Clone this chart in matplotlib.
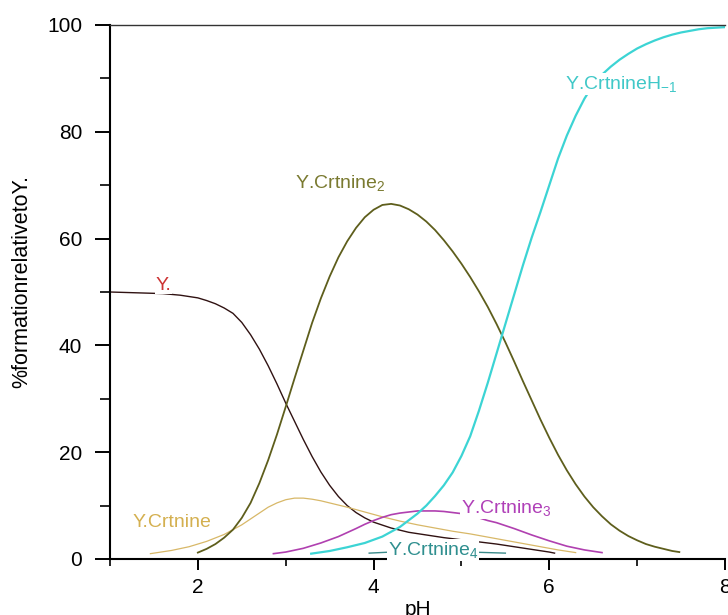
import numpy as np
import matplotlib
matplotlib.use("Agg")
import matplotlib.pyplot as plt
from matplotlib.ticker import MultipleLocator

plt.rcParams['font.family'] = ['Liberation Sans', 'DejaVu Sans']
plt.rcParams['mathtext.fontset'] = 'custom'
plt.rcParams['mathtext.rm'] = 'Liberation Sans'
plt.rcParams['mathtext.it'] = 'Liberation Sans'

# species distribution (pH, % formation)
ph_free = [1.0, 1.2, 1.4, 1.6, 1.8, 2.0, 2.1, 2.2, 2.3, 2.4, 2.5, 2.6, 2.7, 2.8, 2.9,
           3.0, 3.1, 3.2, 3.3, 3.4, 3.5, 3.6, 3.7, 3.8, 3.9, 4.0, 4.2, 4.4, 4.6, 4.8,
           5.0, 5.2, 5.4, 5.6, 5.8, 6.0, 6.06]
y_free = [50, 49.9, 49.8, 49.7, 49.4, 48.9, 48.4, 47.8, 47, 46, 44.3, 42, 39.3, 36.2, 32.8,
          29.2, 25.8, 22.4, 19.2, 16.3, 13.8, 11.7, 10.0, 8.7, 7.7, 6.9, 5.8, 5.0, 4.5, 4.0,
          3.6, 3.2, 2.8, 2.3, 1.8, 1.3, 1.1]

ph_l1 = [1.46, 1.7, 1.9, 2.1, 2.3, 2.5, 2.6, 2.7, 2.8, 2.9, 3.0, 3.1, 3.2, 3.3, 3.4,
         3.5, 3.7, 3.9, 4.1, 4.3, 4.5, 4.7, 4.9, 5.1, 5.3, 5.5, 5.7, 5.9, 6.1, 6.3]
y_l1 = [1, 1.6, 2.3, 3.3, 4.6, 6.4, 7.5, 8.6, 9.7, 10.5, 11.1, 11.4, 11.4, 11.2, 10.9,
        10.5, 9.7, 8.8, 7.9, 7.1, 6.4, 5.8, 5.2, 4.7, 4.1, 3.5, 2.9, 2.3, 1.7, 1.2]

ph_l2 = [2.0, 2.1, 2.2, 2.3, 2.4, 2.5, 2.6, 2.7, 2.8, 2.9, 3.0, 3.1, 3.2, 3.3, 3.4,
         3.5, 3.6, 3.7, 3.8, 3.9, 4.0, 4.1, 4.2, 4.3, 4.4, 4.5, 4.6, 4.7, 4.8, 4.9,
         5.0, 5.1, 5.2, 5.3, 5.4, 5.5, 5.6, 5.7, 5.8, 5.9, 6.0, 6.1, 6.2, 6.3, 6.4,
         6.5, 6.6, 6.7, 6.8, 6.9, 7.0, 7.1, 7.2, 7.3, 7.4, 7.48]
y_l2 = [1.2, 1.9, 2.8, 4, 5.5, 7.7, 10.5, 14.2, 18.5, 23.3, 28.5, 33.8, 39, 44.2, 48.8,
        52.9, 56.5, 59.5, 62, 64, 65.4, 66.3, 66.5, 66.2, 65.5, 64.5, 63.2, 61.6, 59.7, 57.6,
        55.3, 52.8, 50.1, 47.2, 44.0, 40.6, 37, 33.3, 29.7, 26.1, 22.7, 19.5, 16.6, 14.0, 11.7,
        9.7, 8.0, 6.5, 5.3, 4.3, 3.5, 2.8, 2.3, 1.9, 1.5, 1.3]

ph_l3 = [2.86, 3.0, 3.2, 3.4, 3.6, 3.8, 3.9, 4.0, 4.1, 4.2, 4.3, 4.4, 4.5, 4.6, 4.7,
         4.8, 4.9, 5.0, 5.1, 5.2, 5.3, 5.4, 5.6, 5.8, 6.0, 6.2, 6.4, 6.6]
y_l3 = [1, 1.3, 2, 3, 4.2, 5.7, 6.5, 7.2, 7.8, 8.3, 8.6, 8.8, 9.0, 9.0, 9.0,
        8.9, 8.7, 8.5, 8.1, 7.7, 7.2, 6.8, 5.7, 4.5, 3.4, 2.4, 1.7, 1.2]

ph_l4 = [3.95, 4.2, 4.5, 4.8, 5.1, 5.5]
y_l4 = [1.1, 1.3, 1.4, 1.4, 1.3, 1.1]

ph_lh = [3.29, 3.5, 3.7, 3.9, 4.1, 4.3, 4.5, 4.6, 4.7, 4.8, 4.9, 5.0, 5.1, 5.2, 5.3,
         5.4, 5.5, 5.6, 5.7, 5.8, 5.9, 6.0, 6.1, 6.2, 6.3, 6.4, 6.5, 6.6, 6.7, 6.8,
         6.9, 7.0, 7.1, 7.2, 7.3, 7.4, 7.5, 7.6, 7.7, 7.8, 7.9, 8.0]
y_lh = [1.0, 1.5, 2.2, 3.0, 4.2, 6.0, 8.5, 10, 11.8, 13.8, 16.2, 19.3, 23, 27.8, 33,
        38.5, 44, 49.5, 55, 60.2, 65, 70, 75, 79.3, 83, 86.2, 88.8, 90.7, 92.2, 93.5,
        94.6, 95.6, 96.4, 97.1, 97.7, 98.2, 98.6, 98.9, 99.2, 99.4, 99.5, 99.6]

fig = plt.figure(figsize=(7.28, 6.15), dpi=100)
ax = fig.add_axes([110/728, 56/615, 615/728, 534/615])

ax.plot(ph_free, y_free, color='#301212', lw=1.0)
ax.plot(ph_l1, y_l1, color='#d8b868', lw=0.9)
ax.plot(ph_l2, y_l2, color='#5e5e1c', lw=1.3)
ax.plot(ph_l3, y_l3, color='#b040b0', lw=1.2)
ax.plot(ph_l4, y_l4, color='#3a8a8a', lw=1.0)
ax.plot(ph_lh, y_lh, color='#3cd4d4', lw=1.6)

box = dict(facecolor='white', edgecolor='none', pad=0.5)
ax.text(1.61, 51.3, 'Y.', color='#cc3333', fontsize=14, ha='center', va='center', bbox=box)
ax.text(1.70, 6.8, 'Y.Crtnine', color='#d4b050', fontsize=14, ha='center', va='center')
ax.text(3.62, 70.5, 'Y.Crtnine$_2$', color='#7a7a30', fontsize=14, ha='center', va='center')
ax.text(6.82, 88.9, 'Y.CrtnineH$_{-1}$', color='#40c8c8', fontsize=14, ha='center', va='center', bbox=box)
ax.text(5.51, 9.6, 'Y.Crtnine$_3$', color='#b040b8', fontsize=14, ha='center', va='center', bbox=box)
ax.text(4.68, 1.7, 'Y.Crtnine$_4$', color='#2f8f8f', fontsize=14, ha='center', va='center', bbox=box)

ax.set_xlim(1, 8)
ax.set_ylim(0, 100)
ax.xaxis.set_major_locator(MultipleLocator(2))
ax.xaxis.set_minor_locator(MultipleLocator(1))
ax.yaxis.set_major_locator(MultipleLocator(20))
ax.yaxis.set_minor_locator(MultipleLocator(10))
ax.tick_params(axis='x', which='major', direction='out', length=8, width=1.4, labelsize=15, pad=6)
ax.tick_params(axis='x', which='minor', direction='out', length=5, width=1.2)
ax.tick_params(axis='y', which='major', direction='out', length=11, width=1.4, labelsize=15, pad=9)
ax.tick_params(axis='y', which='minor', direction='out', length=7, width=1.2)
ax.spines['right'].set_visible(False)
ax.spines['left'].set_linewidth(1.5)
ax.spines['bottom'].set_linewidth(1.5)
ax.spines['top'].set_linewidth(1.0)
ax.spines['top'].set_color('#333333')

ax.set_xlabel('pH', fontsize=15, labelpad=2)
ax.set_ylabel('%formationrelativetoY.', fontsize=15.5)
ax.yaxis.set_label_coords(-0.127, 0.52)

fig.savefig('out.png', dpi=100)
